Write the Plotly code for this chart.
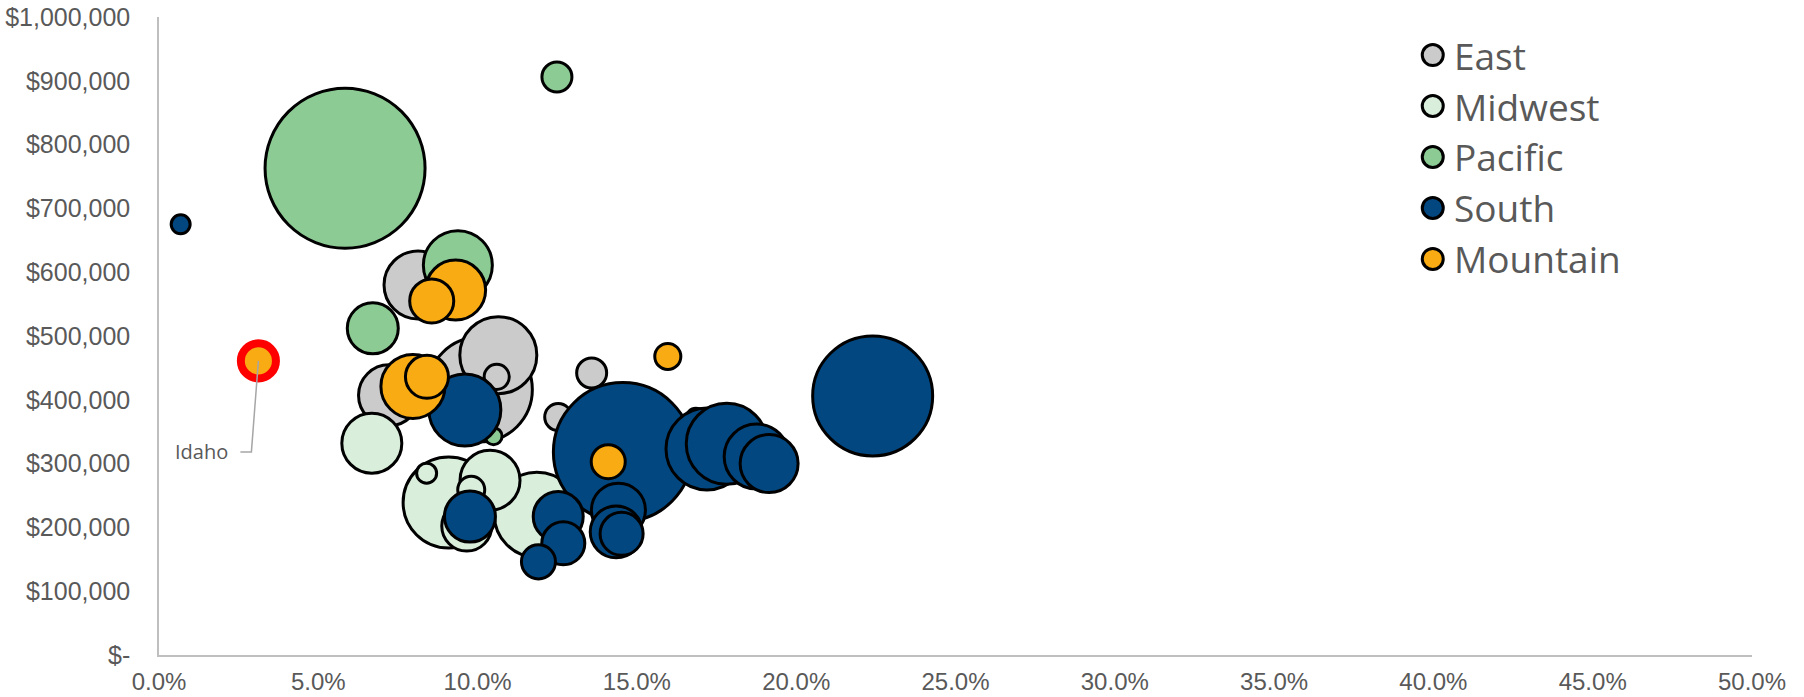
import plotly.graph_objects as go

# ---------------- data ----------------
regions = ["East", "Midwest", "Pacific", "South", "Mountain"]
region_colors = ["#CBCBCB", "#DAEEDC", "#8DCB95", "#02477F", "#F9AB14"]

# x = share (fraction), y = dollars, s = bubble value (area units)
east_x = [0.1007, 0.1065, 0.0813, 0.0722, 0.1358, 0.1253, 0.1060, 0.1685]
east_y = [416000, 470000, 580000, 407000, 442000, 373000, 436000, 372000]
east_s = [110.3, 59.3, 46.2, 37.2, 9.0, 7.3, 6.3, 3.6]

midwest_x = [0.0909, 0.1186, 0.0668, 0.1039, 0.0966, 0.0980, 0.0840]
midwest_y = [239000, 220000, 332000, 274000, 202000, 259000, 285000]
midwest_s = [82.8, 72.3, 36.0, 36.0, 25.0, 7.3, 4.0]

pacific_x = [0.0584, 0.0938, 0.0671, 0.1249, 0.1050]
pacific_y = [763000, 611000, 512000, 906000, 343000]
pacific_s = [256.0, 47.6, 26.0, 9.0, 2.9]

south_x = [0.1456, 0.2240, 0.1720, 0.1782, 0.0960, 0.1876, 0.1915, 0.1442,
           0.1435, 0.0976, 0.1253, 0.1452, 0.1269, 0.1191, 0.0068]
south_y = [318000, 406000, 323000, 331000, 384000, 311000, 300000, 227000,
           193000, 217000, 217000, 190000, 175000, 146000, 675000]
south_s = [193.2, 144.0, 67.2, 65.6, 51.8, 42.3, 33.6, 29.2,
           27.0, 26.0, 25.0, 18.5, 18.5, 11.6, 3.6]

mountain_x = [0.0797, 0.0931, 0.0856, 0.0841, 0.1410, 0.1597, 0.0312]
mountain_y = [421000, 572000, 555000, 436000, 303000, 468000, 461000]
mountain_s = [41.0, 36.0, 19.4, 18.5, 11.6, 6.8, 12.3]
mountain_names = ["", "", "", "", "", "", "Idaho"]
highlight_name = "Idaho"

x_tickvals = [0.0, 0.05, 0.10, 0.15, 0.20, 0.25, 0.30, 0.35, 0.40, 0.45, 0.50]
y_tickvals = [0, 100000, 200000, 300000, 400000, 500000, 600000, 700000, 800000, 900000, 1000000]
y_ticktext = ["$-", "$100,000", "$200,000", "$300,000", "$400,000", "$500,000",
              "$600,000", "$700,000", "$800,000", "$900,000", "$1,000,000"]

series = [
    (east_x, east_y, east_s),
    (midwest_x, midwest_y, midwest_s),
    (pacific_x, pacific_y, pacific_s),
    (south_x, south_y, south_s),
    (mountain_x, mountain_y, mountain_s),
]

# ---------------- figure ----------------
SIZEREF = 0.02
OUTLINE = 3
fig = go.Figure()

for name, color, (xs, ys, ss) in zip(regions, region_colors, series):
    if name == "Mountain":
        line_colors = ["#FF0000" if n == highlight_name else "#000000" for n in mountain_names]
        line_widths = [8 if n == highlight_name else OUTLINE for n in mountain_names]
    else:
        line_colors = "#000000"
        line_widths = OUTLINE
    fig.add_trace(go.Scatter(
        x=xs, y=ys, mode="markers", name=name,
        marker=dict(size=ss, sizemode="area", sizeref=SIZEREF, color=color,
                    opacity=1, line=dict(color=line_colors, width=line_widths)),
        showlegend=False, hoverinfo="x+y+name",
    ))

# custom legend (larger markers than plotly's built-in legend allows)
leg_x0, leg_y0, leg_step = 0.7996, 0.9404, 0.0799
leg_y = [leg_y0 - i * leg_step for i in range(len(regions))]
fig.add_trace(go.Scatter(
    x=[leg_x0] * len(regions), y=leg_y, xaxis="x2", yaxis="y2", mode="markers",
    marker=dict(size=21, color=region_colors, line=dict(color="#000000", width=OUTLINE)),
    showlegend=False, hoverinfo="skip",
))
for name, yy in zip(regions, leg_y):
    fig.add_annotation(x=leg_x0, y=yy, xref="paper", yref="paper", text=name,
                       showarrow=False, xanchor="left", yanchor="middle", xshift=19,
                       font=dict(family="Open Sans", size=37, color="#595959"))

# Idaho callout
idx = mountain_names.index(highlight_name)
hx, hy = mountain_x[idx], mountain_y[idx]
fig.add_shape(type="path", xref="x", yref="y", xsizemode="pixel", ysizemode="pixel",
              xanchor=hx, yanchor=hy, path="M0,0 L-7,-91 L-18,-91",
              line=dict(color="#A6A6A6", width=1.5), layer="above")
fig.add_annotation(x=hx, y=hy, xref="x", yref="y", text=highlight_name, showarrow=False,
                   xanchor="right", yanchor="middle", xshift=-28, yshift=-91,
                   font=dict(family="Open Sans", size=20, color="#595959"))

fig.update_layout(
    width=1804, height=697,
    margin=dict(l=159, r=52, t=17, b=42, autoexpand=False),
    paper_bgcolor="white", plot_bgcolor="white",
    showlegend=False,
    xaxis=dict(range=[0, 0.5], tickvals=x_tickvals, tickformat=".1%",
               showgrid=False, zeroline=False, showline=True, linecolor="#BFBFBF", linewidth=1.5,
               ticks="", ticklabelstandoff=4,
               tickfont=dict(family="Liberation Sans Narrow, Arial Narrow, Liberation Sans, Arial",
                             size=24, color="#595959")),
    yaxis=dict(range=[0, 1000000], tickvals=y_tickvals, ticktext=y_ticktext,
               showgrid=False, zeroline=False, showline=True, linecolor="#BFBFBF", linewidth=1.5,
               ticks="", ticklabelstandoff=22,
               tickfont=dict(family="Liberation Sans, Arial", size=25, color="#595959")),
    xaxis2=dict(overlaying="x", range=[0, 1], visible=False),
    yaxis2=dict(overlaying="y", range=[0, 1], visible=False),
)

fig.write_html("out.html")
